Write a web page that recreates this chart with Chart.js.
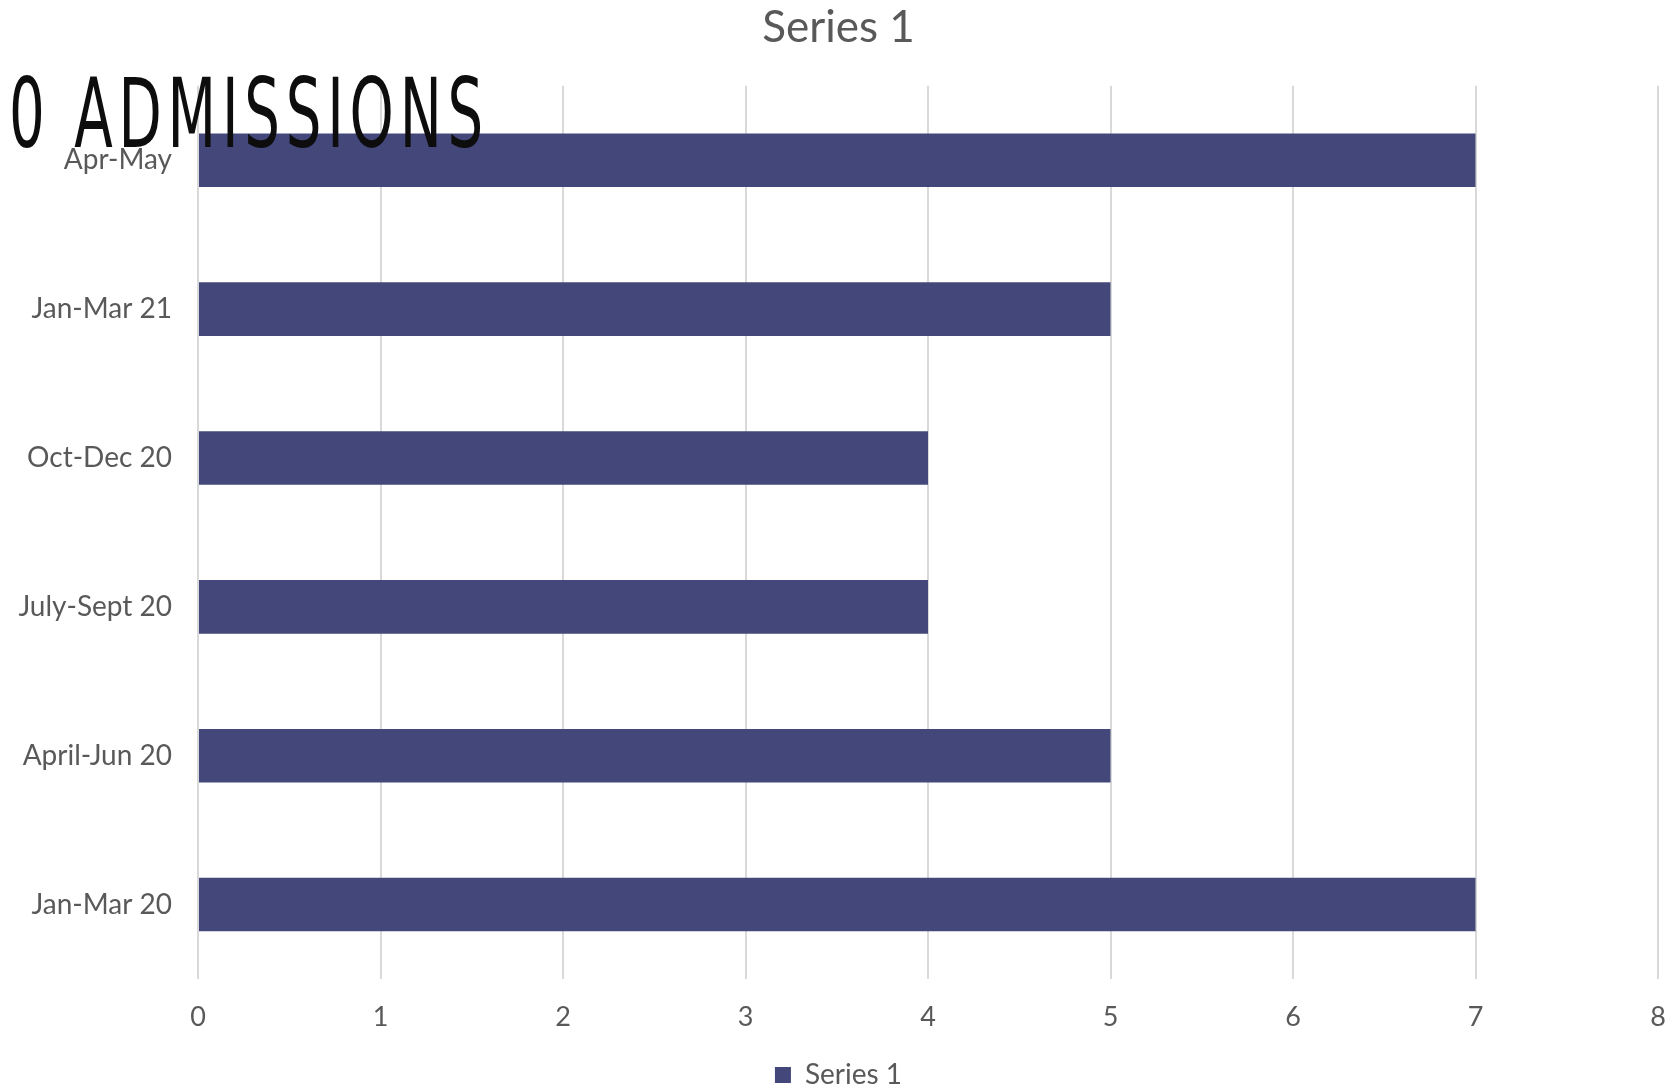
<!DOCTYPE html>
<html>
<head>
    <meta charset="UTF-8">
    <title>Series 1</title>
    <style>
        html, body {
            margin: 0;
            padding: 0;
            background: #fff;
        }

        .wrap {
            position: relative;
            width: 1677px;
            height: 1091px;
        }

        #chart {
            display: block;
        }

        #slide-title {
            position: absolute;
            left: 9px;
            top: 56px;
            font-family: "Liberation Sans Narrow", "DejaVu Sans", sans-serif;
            font-stretch: condensed;
            font-size: 97px;
            line-height: 1.2;
            letter-spacing: 9px;
            color: #0d0d0d;
            white-space: nowrap;
            transform-origin: 0 0;
            z-index: 2;
        }
    </style>
</head>
<body>
    <div class="wrap">
        <div id="slide-title">0 ADMISSIONS</div>
        <canvas id="chart" width="1677" height="1091"></canvas>
    </div>

    <script src="https://cdn.jsdelivr.net/npm/chart.js"></script>
    <script>
        // data
        const periods = ["Apr-May", "Jan-Mar 21", "Oct-Dec 20", "July-Sept 20", "April-Jun 20", "Jan-Mar 20"];
        const series1 = [7, 5, 4, 4, 5, 7];
        const seriesName = "Series 1";
        const xMin = 0;
        const xMax = 8;

        const textColor = "#595959";
        const barColor = "#44477a";
        const gridColor = "#d9d9d9";
        const fontFamily = "Lato, 'Open Sans', sans-serif";

        // squeeze the slide title to the width it has in the picture
        const slideTitle = document.querySelector("#slide-title");
        const sx = 480 / slideTitle.offsetWidth;
        slideTitle.style.transform = "scale(" + sx + ",1)";

        const ctx = document.querySelector("#chart").getContext("2d");
        new Chart(ctx, {
            type: "bar",
            data: {
                labels: periods,
                datasets: [{
                    label: seriesName,
                    data: series1,
                    backgroundColor: barColor,
                    borderWidth: 0,
                    barPercentage: 0.36,
                    categoryPercentage: 1,
                }],
            },
            options: {
                indexAxis: "y",
                responsive: false,
                animation: false,
                layout: {
                    padding: { left: 0, right: 0, top: 0, bottom: 0 },
                },
                plugins: {
                    title: {
                        display: true,
                        text: seriesName,
                        color: textColor,
                        font: { family: fontFamily, size: 44, weight: "normal" },
                        padding: { top: 1, bottom: 32 },
                    },
                    legend: {
                        display: true,
                        position: "bottom",
                        maxHeight: 30,
                        labels: {
                            color: textColor,
                            font: { family: fontFamily, size: 28 },
                            boxWidth: 16,
                            boxHeight: 16,
                            padding: 0,
                        },
                    },
                    tooltip: { enabled: false },
                },
                scales: {
                    x: {
                        min: xMin,
                        max: xMax,
                        ticks: {
                            stepSize: 1,
                            color: textColor,
                            font: { family: fontFamily, size: 27 },
                            padding: 22,
                        },
                        grid: {
                            color: gridColor,
                            lineWidth: 2,
                            drawTicks: false,
                        },
                        border: { display: false },
                        afterFit: (scale) => {
                            scale.height = 82;
                            scale.paddingRight = 19;
                        },
                    },
                    y: {
                        ticks: {
                            color: textColor,
                            font: { family: fontFamily, size: 28 },
                            padding: 26,
                        },
                        grid: { display: false, drawTicks: false },
                        border: { display: false },
                        afterFit: (scale) => { scale.width = 198; },
                    },
                },
            },
        });
    </script>
</body>
</html>
